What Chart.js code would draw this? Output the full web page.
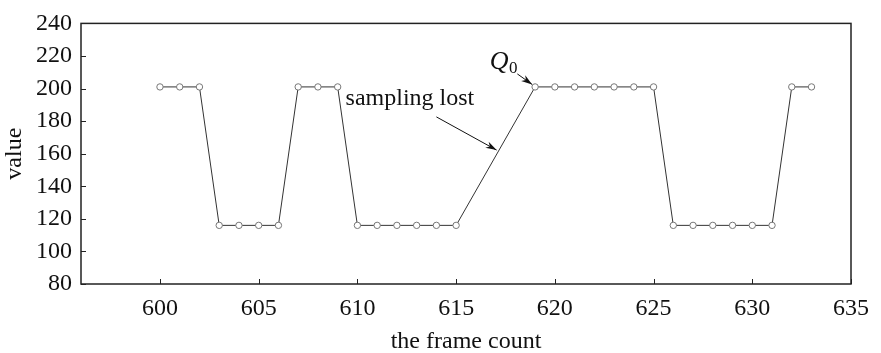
<!DOCTYPE html>
<html>
<head>
<meta charset="utf-8">
<script src="https://cdn.jsdelivr.net/npm/chart.js@4.4.1/dist/chart.umd.min.js"></script>
<style>
  html, body { margin: 0; padding: 0; background: #ffffff; }
  #wrap { width: 881px; height: 353px; }
</style>
</head>
<body>
<div id="wrap"><canvas id="c" width="881" height="353"></canvas></div>
<script>
// ---- data ----
const frames = [600, 601, 602, 603, 604, 605, 606, 607, 608, 609, 610, 611, 612, 613, 614, 615,
                619, 620, 621, 622, 623, 624, 625, 626, 627, 628, 629, 630, 631, 632, 633];
const values = [201, 201, 201, 116, 116, 116, 116, 201, 201, 201, 116, 116, 116, 116, 116, 116,
                201, 201, 201, 201, 201, 201, 201, 116, 116, 116, 116, 116, 116, 201, 201];
const xTicks = [600, 605, 610, 615, 620, 625, 630, 635];
const yTicks = [80, 100, 120, 140, 160, 180, 200, 220, 240];
const xTitle = 'the frame count';
const yTitle = 'value';
const noteLost = 'sampling lost';
const noteQ = 'Q';
const noteQsub = '0';
// annotation anchors in data units
const lostTextAt = [609.4, 194];
const lostArrowFrom = [614.0, 182.6];
const lostArrowTo = [617.05, 162.2];
const qTextAt = [616.7, 216];
const qArrowFrom = [618.1, 209];
const qArrowTo = [618.85, 202.5];

const FONT = '"Liberation Serif", "DejaVu Serif", serif';

const points = frames.map((f, i) => ({ x: f, y: values[i] }));

function arrow(ctx, x1, y1, x2, y2) {
  ctx.save();
  ctx.strokeStyle = '#111';
  ctx.fillStyle = '#111';
  ctx.lineWidth = 1;
  ctx.beginPath();
  ctx.moveTo(x1, y1);
  ctx.lineTo(x2, y2);
  ctx.stroke();
  const a = Math.atan2(y2 - y1, x2 - x1);
  const L = 11, W = 3.5;
  ctx.beginPath();
  ctx.moveTo(x2, y2);
  ctx.lineTo(x2 - L * Math.cos(a) + W * Math.sin(a), y2 - L * Math.sin(a) - W * Math.cos(a));
  ctx.lineTo(x2 - 0.7 * L * Math.cos(a), y2 - 0.7 * L * Math.sin(a));
  ctx.lineTo(x2 - L * Math.cos(a) - W * Math.sin(a), y2 - L * Math.sin(a) + W * Math.cos(a));
  ctx.closePath();
  ctx.fill();
  ctx.restore();
}

const framePlugin = {
  id: 'framePlugin',
  afterDraw(chart) {
    const { ctx, chartArea: ca, scales } = chart;
    const xs = scales.x, ys = scales.y;
    ctx.save();
    // inner ticks
    ctx.strokeStyle = '#222';
    ctx.lineWidth = 1;
    ctx.beginPath();
    xs.ticks.forEach(t => {
      const px = Math.round(xs.getPixelForValue(t.value)) + 0.5;
      ctx.moveTo(px, ca.bottom);
      ctx.lineTo(px, ca.bottom - 5);
    });
    ys.ticks.forEach(t => {
      const py = Math.round(ys.getPixelForValue(t.value)) + 0.5;
      ctx.moveTo(ca.left, py);
      ctx.lineTo(ca.left + 5, py);
    });
    ctx.stroke();
    // box
    ctx.strokeStyle = '#222';
    ctx.lineWidth = 1.5;
    ctx.strokeRect(ca.left, ca.top, ca.right - ca.left, ca.bottom - ca.top);

    // annotations
    ctx.fillStyle = '#111';
    ctx.font = '24px ' + FONT;
    ctx.textBaseline = 'middle';
    ctx.textAlign = 'left';
    ctx.fillText(noteLost, xs.getPixelForValue(lostTextAt[0]), ys.getPixelForValue(lostTextAt[1]));
    arrow(ctx, xs.getPixelForValue(lostArrowFrom[0]), ys.getPixelForValue(lostArrowFrom[1]),
               xs.getPixelForValue(lostArrowTo[0]), ys.getPixelForValue(lostArrowTo[1]));

    ctx.font = 'italic 26px ' + FONT;
    const qx = xs.getPixelForValue(qTextAt[0]);
    const qy = ys.getPixelForValue(qTextAt[1]);
    ctx.fillText(noteQ, qx, qy);
    const qw = ctx.measureText(noteQ).width;
    ctx.font = '17px ' + FONT;
    ctx.fillText(noteQsub, qx + qw + 0.5, qy + 6);
    arrow(ctx, xs.getPixelForValue(qArrowFrom[0]), ys.getPixelForValue(qArrowFrom[1]),
               xs.getPixelForValue(qArrowTo[0]), ys.getPixelForValue(qArrowTo[1]));
    ctx.restore();
  }
};

new Chart(document.getElementById('c'), {
  type: 'scatter',
  data: {
    datasets: [{
      data: points,
      showLine: true,
      borderColor: '#333',
      borderWidth: 1,
      pointRadius: 3.2,
      pointBorderWidth: 1,
      pointBorderColor: '#777',
      pointBackgroundColor: '#ffffff',
      tension: 0
    }]
  },
  options: {
    responsive: false,
    animation: false,
    devicePixelRatio: 1,
    layout: { padding: { top: 17, right: 30, left: 0, bottom: 0 } },
    plugins: { legend: { display: false }, tooltip: { enabled: false } },
    scales: {
      x: {
        type: 'linear',
        min: 596,
        max: 635,
        afterBuildTicks: s => { s.ticks = xTicks.map(v => ({ value: v })); },
        afterFit: s => { s.height = 69; },
        grid: { display: false, drawTicks: false },
        border: { display: false },
        ticks: {
          color: '#111',
          padding: 10,
          maxRotation: 0,
          autoSkip: false,
          font: { family: FONT, size: 24 }
        },
        title: {
          display: true,
          text: xTitle,
          color: '#111',
          padding: { top: 2, bottom: -3 },
          font: { family: FONT, size: 24 }
        }
      },
      y: {
        type: 'linear',
        min: 80,
        max: 240,
        afterBuildTicks: s => { s.ticks = yTicks.map(v => ({ value: v })); },
        afterFit: s => { s.width = 81; },
        grid: { display: false, drawTicks: false },
        border: { display: false },
        ticks: {
          color: '#111',
          padding: 9,
          autoSkip: false,
          font: { family: FONT, size: 24 }
        },
        title: {
          display: true,
          text: yTitle,
          color: '#111',
          padding: { top: 0, bottom: 0 },
          font: { family: FONT, size: 24 }
        }
      }
    }
  },
  plugins: [framePlugin]
});
</script>
</body>
</html>
